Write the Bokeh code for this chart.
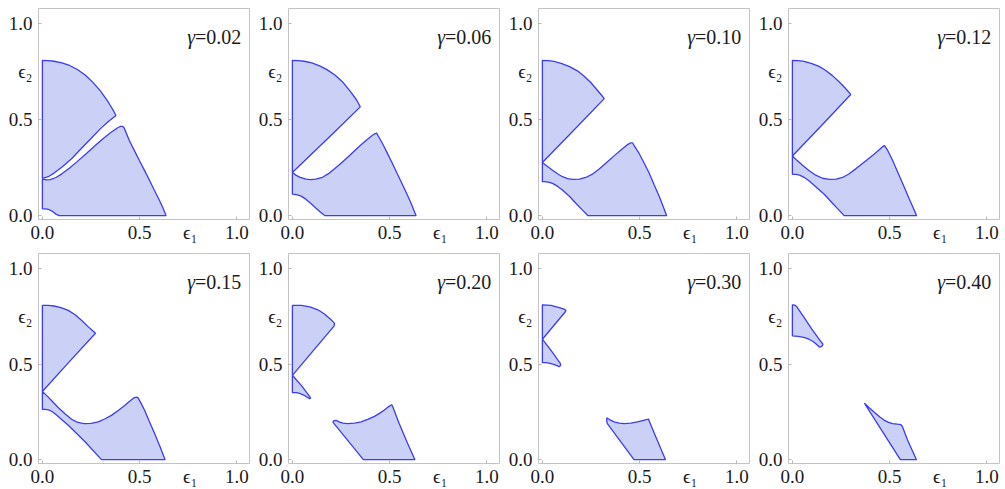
from bokeh.plotting import figure
from bokeh.layouts import column, row
from bokeh.models import Range1d, Label, FixedTicker, PrintfTickFormatter
from bokeh.embed import file_html
from bokeh.resources import INLINE

# ---------------- data ----------------
gammas = ["0.02", "0.06", "0.10", "0.12", "0.15", "0.20", "0.30", "0.40"]
tick_values = [0.0, 0.5, 1.0]
eps1_pos = 0.76
eps2_pos = 0.75

# gamma = 0.02
g1_upper_x = [0, 0, 0.03, 0.06, 0.10, 0.14, 0.18, 0.22, 0.26, 0.30, 0.34, 0.365, 0.378,
              0.344, 0.30, 0.25, 0.20, 0.15, 0.103, 0.06, 0.03, 0]
g1_upper_y = [0.194, 0.809, 0.808, 0.805, 0.797, 0.783, 0.762, 0.733, 0.695, 0.648, 0.59, 0.548, 0.522,
              0.495, 0.455, 0.402, 0.35, 0.297, 0.255, 0.222, 0.203, 0.194]
g1_lower_x = [0, 0.018, 0.035, 0.052, 0.07, 0.086, 0.636, 0.62, 0.601, 0.575, 0.55, 0.525, 0.498, 0.475, 0.447, 0.42,
              0.412, 0.40, 0.385, 0.35, 0.31, 0.27, 0.225, 0.18, 0.14, 0.10, 0.07, 0.04, 0.02, 0]
g1_lower_y = [0.036, 0.035, 0.031, 0.022, 0.008, 0, 0, 0.04, 0.082, 0.134, 0.186, 0.236, 0.289, 0.335, 0.392, 0.458,
              0.466, 0.465, 0.457, 0.432, 0.40, 0.364, 0.323, 0.283, 0.248, 0.218, 0.199, 0.188, 0.187, 0.19]

# gamma = 0.06
g2_upper_x = [0, 0, 0.03, 0.06, 0.10, 0.14, 0.18, 0.22, 0.26, 0.30, 0.33, 0.349, 0.206, 0]
g2_upper_y = [0.225, 0.809, 0.808, 0.805, 0.796, 0.781, 0.76, 0.732, 0.695, 0.645, 0.603, 0.567, 0.426, 0.225]
g2_lower_x = [0, 0.02, 0.04, 0.07, 0.094, 0.12, 0.155, 0.19, 0.24, 0.29, 0.34, 0.38, 0.41, 0.425, 0.433,
              0.44, 0.464, 0.49, 0.515, 0.54, 0.567, 0.59, 0.61, 0.636,
              0.168, 0.145, 0.12, 0.095, 0.069, 0.045, 0.026, 0.01, 0]
g2_lower_y = [0.225, 0.21, 0.20, 0.19, 0.188, 0.19, 0.20, 0.222, 0.264, 0.31, 0.358, 0.393, 0.418, 0.428, 0.43,
              0.418, 0.375, 0.322, 0.271, 0.217, 0.16, 0.11, 0.065, 0,
              0, 0.018, 0.04, 0.063, 0.086, 0.102, 0.108, 0.111, 0.112]

# gamma = 0.10
g3_upper_x = [0, 0, 0.03, 0.06, 0.10, 0.14, 0.18, 0.215, 0.25, 0.275, 0.30, 0.318, 0.16, 0]
g3_upper_y = [0.277, 0.809, 0.808, 0.804, 0.793, 0.777, 0.755, 0.727, 0.693, 0.663, 0.633, 0.61, 0.444, 0.277]
g3_lower_x = [0, 0.025, 0.052, 0.08, 0.103, 0.13, 0.155, 0.19, 0.223, 0.26, 0.292, 0.33, 0.37, 0.41, 0.44, 0.455, 0.464,
              0.475, 0.498, 0.525, 0.55, 0.575, 0.601, 0.62, 0.639,
              0.235, 0.205, 0.172, 0.14, 0.103, 0.075, 0.052, 0.03, 0.01, 0]
g3_lower_y = [0.277, 0.258, 0.237, 0.217, 0.203, 0.193, 0.189, 0.19, 0.199, 0.218, 0.243, 0.277, 0.313, 0.348, 0.372, 0.38, 0.379,
              0.36, 0.323, 0.271, 0.22, 0.16, 0.10, 0.05, 0,
              0, 0.03, 0.065, 0.10, 0.134, 0.155, 0.168, 0.175, 0.177, 0.177]

# gamma = 0.12
g4_upper_x = [0, 0, 0.03, 0.06, 0.10, 0.137, 0.17, 0.206, 0.24, 0.27, 0.30, 0.15, 0]
g4_upper_y = [0.311, 0.809, 0.808, 0.804, 0.793, 0.778, 0.758, 0.73, 0.698, 0.667, 0.632, 0.47, 0.311]
g4_lower_x = [0, 0.025, 0.052, 0.085, 0.12, 0.155, 0.189, 0.225, 0.258, 0.29, 0.326, 0.37, 0.412, 0.445, 0.465, 0.473,
              0.49, 0.515, 0.54, 0.567, 0.60, 0.639,
              0.266, 0.236, 0.206, 0.165, 0.12, 0.09, 0.06, 0.04, 0.02, 0]
g4_lower_y = [0.311, 0.287, 0.263, 0.235, 0.211, 0.195, 0.189, 0.191, 0.199, 0.217, 0.244, 0.28, 0.314, 0.342, 0.36, 0.366,
              0.34, 0.289, 0.23, 0.168, 0.09, 0,
              0, 0.033, 0.065, 0.11, 0.151, 0.178, 0.20, 0.21, 0.215, 0.216]

# gamma = 0.15
g5_upper_x = [0, 0, 0.03, 0.06, 0.095, 0.133, 0.17, 0.201, 0.235, 0.26, 0.273, 0.133, 0]
g5_upper_y = [0.357, 0.808, 0.808, 0.805, 0.797, 0.782, 0.758, 0.73, 0.697, 0.674, 0.662, 0.507, 0.357]
g5_lower_x = [0, 0.025, 0.048, 0.08, 0.116, 0.15, 0.176, 0.20, 0.218, 0.25, 0.287, 0.32, 0.355, 0.39, 0.423, 0.45, 0.471,
              0.483, 0.491, 0.505, 0.526, 0.55, 0.577, 0.605, 0.631,
              0.304, 0.218, 0.133, 0.065, 0.045, 0.031, 0.015, 0]
g5_lower_y = [0.357, 0.333, 0.309, 0.275, 0.241, 0.212, 0.198, 0.191, 0.189, 0.19, 0.198, 0.213, 0.232, 0.258, 0.284, 0.307, 0.324,
              0.328, 0.325, 0.30, 0.258, 0.20, 0.137, 0.068, 0,
              0, 0.095, 0.18, 0.241, 0.255, 0.261, 0.263, 0.263]

# gamma = 0.20
g6_upper_x = [0, 0, 0.046, 0.09, 0.131, 0.165, 0.195, 0.21, 0.217, 0.214, 0]
g6_upper_y = [0.442, 0.808, 0.808, 0.80, 0.785, 0.763, 0.737, 0.722, 0.713, 0.70, 0.442]
g6_mid_x = [0, 0.05, 0.089, 0.094, 0.088, 0.072, 0.055, 0.038, 0.02, 0]
g6_mid_y = [0.442, 0.384, 0.33, 0.322, 0.32, 0.33, 0.34, 0.347, 0.351, 0.352]
g6_lower_x = [0.208, 0.215, 0.225, 0.24, 0.26, 0.285, 0.32, 0.353, 0.39, 0.422, 0.45, 0.473, 0.495, 0.51,
              0.515, 0.549, 0.592, 0.63, 0.365]
g6_lower_y = [0.197, 0.205, 0.206, 0.198, 0.191, 0.189, 0.191, 0.198, 0.212, 0.227, 0.244, 0.26, 0.278, 0.288,
              0.28, 0.189, 0.086, 0, 0]

# gamma = 0.30
g7_upper_x = [0, 0, 0.044, 0.087, 0.115, 0.121, 0.118, 0]
g7_upper_y = [0.631, 0.811, 0.808, 0.797, 0.787, 0.782, 0.775, 0.631]
g7_mid_x = [0, 0.05, 0.092, 0.094, 0.087, 0.075, 0.061, 0.04, 0.02, 0]
g7_mid_y = [0.631, 0.565, 0.505, 0.495, 0.487, 0.493, 0.498, 0.504, 0.508, 0.509]
g7_lower_x = [0.331, 0.345, 0.369, 0.395, 0.42, 0.455, 0.488, 0.515, 0.539, 0.546, 0.548, 0.59, 0.633, 0.471, 0.334, 0.331]
g7_lower_y = [0.22, 0.21, 0.198, 0.191, 0.189, 0.192, 0.198, 0.205, 0.211, 0.213, 0.205, 0.103, 0, 0, 0.189, 0.20]

# gamma = 0.40
g8_upper_x = [0, 0.012, 0.02, 0.06, 0.10, 0.14, 0.157, 0.153, 0.14, 0.125, 0.106, 0.085, 0.063, 0.045, 0.029, 0]
g8_upper_y = [0.811, 0.81, 0.804, 0.745, 0.684, 0.627, 0.605, 0.595, 0.589, 0.603, 0.619, 0.631, 0.639, 0.643, 0.646, 0.648]
g8_lower_x = [0.37, 0.395, 0.421, 0.45, 0.473, 0.495, 0.515, 0.54, 0.558, 0.565, 0.592, 0.638, 0.555]
g8_lower_y = [0.296, 0.272, 0.249, 0.224, 0.206, 0.195, 0.189, 0.186, 0.184, 0.175, 0.103, 0, 0]

regions = [
    [(g1_upper_x, g1_upper_y), (g1_lower_x, g1_lower_y)],
    [(g2_upper_x, g2_upper_y), (g2_lower_x, g2_lower_y)],
    [(g3_upper_x, g3_upper_y), (g3_lower_x, g3_lower_y)],
    [(g4_upper_x, g4_upper_y), (g4_lower_x, g4_lower_y)],
    [(g5_upper_x, g5_upper_y), (g5_lower_x, g5_lower_y)],
    [(g6_upper_x, g6_upper_y), (g6_mid_x, g6_mid_y), (g6_lower_x, g6_lower_y)],
    [(g7_upper_x, g7_upper_y), (g7_mid_x, g7_mid_y), (g7_lower_x, g7_lower_y)],
    [(g8_upper_x, g8_upper_y), (g8_lower_x, g8_lower_y)],
]

# ---------------- styling ----------------
FILL = "#c8cff6"
LINE = "#3c3cf0"
FRAME = "#c4c4c4"
FONT = "Liberation Serif"
TXT = "#1a1a1a"


def make_panel(idx, height, bottom):
    p = figure(width=250, height=height, output_backend="svg", toolbar_location=None,
               x_range=Range1d(-0.02, 1.07), y_range=Range1d(-0.02, 1.08),
               min_border_left=38, min_border_right=0, min_border_top=8, min_border_bottom=bottom)
    p.grid.visible = False
    p.outline_line_color = FRAME
    p.outline_line_width = 1
    p.background_fill_color = "white"
    p.border_fill_color = "white"

    xax, yax = p.xaxis[0], p.yaxis[0]
    xax.ticker = FixedTicker(ticks=tick_values + [eps1_pos], minor_ticks=tick_values)
    yax.ticker = FixedTicker(ticks=tick_values + [eps2_pos], minor_ticks=tick_values)
    xax.major_label_overrides = {eps1_pos: "ϵ₁"}
    yax.major_label_overrides = {eps2_pos: "ϵ₂"}
    for ax in (xax, yax):
        ax.formatter = PrintfTickFormatter(format="%.1f")
        ax.axis_line_color = None
        ax.major_tick_line_color = None
        ax.major_tick_in = 0
        ax.major_tick_out = 0
        ax.minor_tick_line_color = "#b8b8b8"
        ax.minor_tick_in = 3
        ax.minor_tick_out = 0
        ax.major_label_text_font = FONT
        ax.major_label_text_font_size = "19px"
        ax.major_label_text_color = TXT
    yax.major_label_standoff = 6
    xax.major_label_standoff = 2

    for xs, ys in regions[idx]:
        p.patch(xs, ys, fill_color=FILL, fill_alpha=0.95, line_color=LINE, line_width=1.3)

    p.add_layout(Label(x=0.785, y=0.93, text="γ", text_align="right", text_baseline="alphabetic",
                       text_font=FONT, text_font_style="italic", text_font_size="20px", text_color=TXT))
    p.add_layout(Label(x=0.785, y=0.93, text="=" + gammas[idx], text_align="left", text_baseline="alphabetic",
                       text_font=FONT, text_font_size="20px", text_color=TXT))
    return p


panels = [make_panel(i, 245 if i < 4 else 244, 25 if i < 4 else 24) for i in range(8)]
layout = column(row(*panels[:4]), row(*panels[4:]))

open("out.html", "w").write(file_html(layout, INLINE))
